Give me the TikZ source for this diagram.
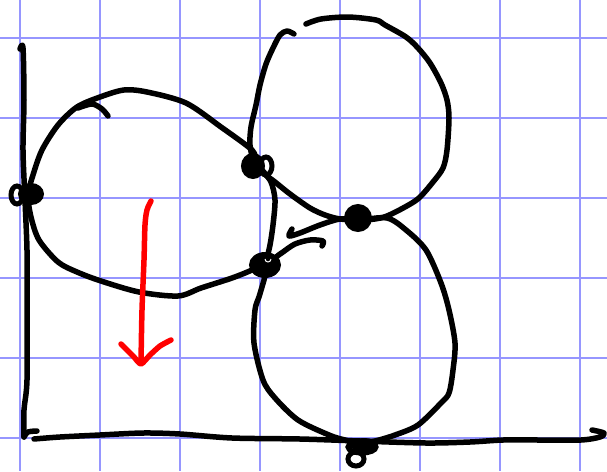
\documentclass[tikz,border=0pt]{standalone}
\usetikzlibrary{calc}
\definecolor{gridblue}{RGB}{150,150,255}
\definecolor{inkred}{RGB}{255,0,0}
\tikzset{
  gridline/.style={draw=gridblue,line width=1.2pt},
  ink/.style={draw=black,line width=5.5pt,line cap=round,line join=round},
  redink/.style={draw=inkred,line width=5.5pt,line cap=round,line join=round},
  knotfill/.style={fill=black,draw=black,line width=2pt},
  knotloop/.style={draw=black,line width=5pt}
}
\begin{document}
\begin{tikzpicture}[x=1pt,y=-1pt]
\useasboundingbox (0,0) rectangle (607,471);
\fill[white] (0,0) rectangle (607,471);
% grid
\foreach \gx in {20,100,180,260,340,420,500,580} \draw[gridline] (\gx,0) -- (\gx,471);
\foreach \gy in {38,118,198,278,358,438} \draw[gridline] (0,\gy) -- (607,\gy);
% knot positions
\coordinate (k1) at (253,166);
\coordinate (k0) at (31,194);
\coordinate (k2) at (265,265);
\coordinate (k3) at (358,218);
\coordinate (k4) at (362,447);
% y axis
\draw[ink] plot[smooth,tension=0.5] coordinates {(20,49) (23,48) (24,100) (23,150) (25,200) (27,250) (27,300) (27,380) (24,410) (24,437)};
\draw[ink] plot[smooth,tension=0.5] coordinates {(24,437) (28,432) (37,431)};
% x axis
\draw[ink] plot[smooth,tension=0.5] coordinates {(34,439) (60,437) (100,435) (143,433) (180,434) (232,438) (300,439) (360,441) (426,443) (470,442) (503,440) (540,440) (581,440) (600,437) (604,433) (592,430)};
% left loop
\draw[ink] plot[smooth,tension=0.5] coordinates {(78,108) (92,104) (102,109) (108,116)};
\draw[ink] plot[smooth,tension=0.5] coordinates {(255,160) (252,150) (221,127) (186,103) (147,92) (124,90) (100,97) (77,107) (58,125) (42,150) (33,175) (28,195) (31,217) (39,240) (58,262) (77,272) (101,281) (139,292) (178,296) (201,288) (232,278) (252,270) (265,263)};
% connector between knots
\draw[ink] plot[smooth,tension=0.5] coordinates {(262,170) (271,182) (275,200) (273,225) (270,245) (266,262)};
% top right loop
\draw[ink] plot[smooth,tension=0.5] coordinates {(294,34) (287,31) (280,35) (273,48) (266,64) (260,85) (256,105) (251,127) (250,145) (254,162) (262,172) (275,182) (290,194) (310,208) (325,215) (340,219) (358,220) (375,219) (387,216) (405,207) (419,198) (433,182) (443,168) (447,150) (449,118) (447,100) (441,83) (430,63) (418,48) (406,37) (385,25) (376,20) (348,17) (321,19) (306,24)};
% bottom right loop
\draw[ink] plot[smooth,tension=0.5] coordinates {(292,229) (289,236) (300,233) (320,225) (340,219) (358,220) (387,218) (406,230) (426,250) (441,283) (449,310) (455,343) (453,370) (449,393) (441,403) (418,425) (395,435) (375,441) (360,443) (345,440) (329,435) (298,420) (275,398) (263,380) (254,343) (255,310) (259,297) (264,280) (267,268) (275,258) (283,252) (295,244) (310,240) (323,241) (322,246)};
% knots
\fill[knotfill] (k1) ellipse[x radius=11,y radius=12];
\draw[knotloop] (266,166) ellipse[x radius=6,y radius=9];
\fill[knotfill] (k0) ellipse[x radius=12,y radius=10];
\draw[knotloop] (17,195) ellipse[x radius=6,y radius=9];
\fill[knotfill] (k2) ellipse[x radius=15,y radius=12];
\draw[white,line width=1pt] (265,259) arc[start angle=180,end angle=0,radius=3];
\fill[knotfill] (k3) ellipse[x radius=13,y radius=13];
\draw[knotloop] (k4) ellipse[x radius=14,y radius=6];
\fill[knotfill] (364,445) ellipse[x radius=13,y radius=6];
\draw[knotloop] (356,459) ellipse[x radius=8,y radius=7];
% red arrow
\draw[redink] plot[smooth,tension=0.5] coordinates {(151,201) (147,210) (145,225) (144,260) (142,310) (141,363)};
\draw[redink] plot[smooth,tension=0.4] coordinates {(121,344) (128,351) (134,357) (141,364) (150,355) (160,346) (171,340)};
\end{tikzpicture}
\end{document}
